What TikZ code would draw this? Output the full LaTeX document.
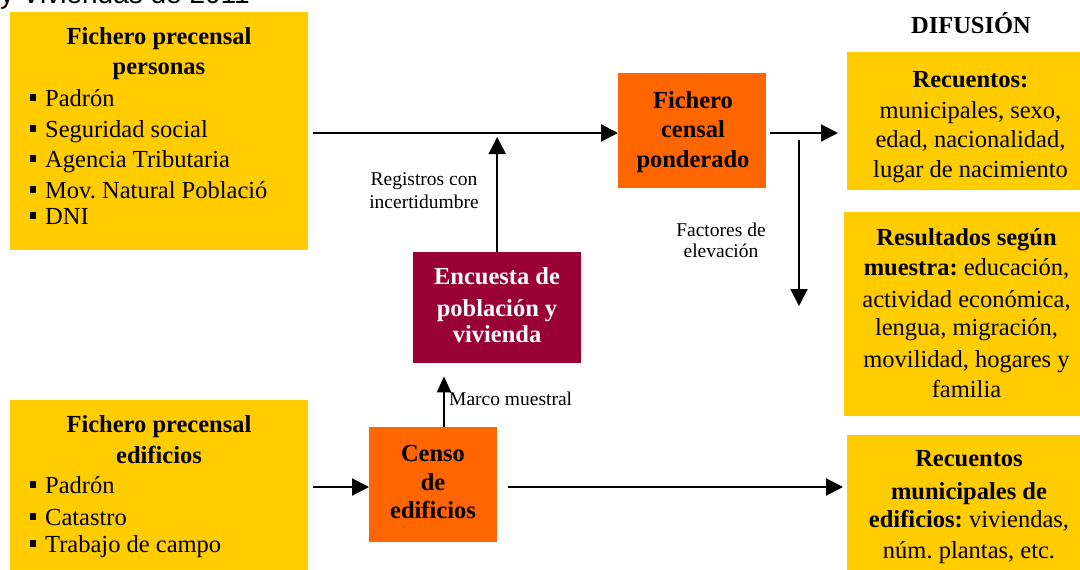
\documentclass[tikz,border=0pt]{standalone}
\usepackage{fontspec}
\setmainfont{Liberation Serif}
\newfontfamily\headsans{Liberation Sans}
\usetikzlibrary{arrows.meta}
\definecolor{ycol}{HTML}{FFCC00}
\definecolor{ocol}{HTML}{FF6600}
\definecolor{mcol}{HTML}{990033}
\newcommand\bodyfont{\fontsize{24.5}{30}\selectfont}
\newcommand\lblfont{\fontsize{19.5}{24}\selectfont}
\newcommand\bul{\raisebox{5.5pt}{\rule{6.5pt}{6.5pt}}\hspace{9pt}}
\frenchspacing
\begin{document}
\frenchspacing
\begin{tikzpicture}[x=1pt,y=-1pt,
  box/.style={draw=none, inner sep=0pt, anchor=north west},
  ln/.style={anchor=base, inner sep=0pt, font=\bodyfont},
  lnb/.style={anchor=base, inner sep=0pt, font=\bodyfont\bfseries},
  lnl/.style={anchor=base west, inner sep=0pt, font=\bodyfont},
  lbl/.style={anchor=base, inner sep=0pt, font=\lblfont},
  arr/.style={line width=2pt, -{Triangle[length=17pt,width=17pt]}},
  arrs/.style={line width=2pt, -{Triangle[length=16pt,width=14pt]}}]
\useasboundingbox (0,0) rectangle (1080,570);

% cut-off heading at top
\node[anchor=base west, inner sep=0pt, font=\headsans\fontsize{28}{30}\selectfont] (cut) at (0,4) {y Viviendas de 2011};

% boxes
\node[box, fill=ycol, minimum width=298pt, minimum height=238pt] (pp) at (10,12) {};
\node[box, fill=ycol, minimum width=298pt, minimum height=170pt] (pe) at (10,400) {};
\node[box, fill=ocol, minimum width=148pt, minimum height=115pt] (fc) at (618,73) {};
\node[box, fill=mcol, minimum width=168pt, minimum height=111pt] (enc) at (413,252) {};
\node[box, fill=ocol, minimum width=128pt, minimum height=115pt] (ce) at (369,427) {};
\node[box, fill=ycol, minimum width=233pt, minimum height=138pt] (rec) at (847,52) {};
\node[box, fill=ycol, minimum width=236pt, minimum height=204pt] (res) at (844,212) {};
\node[box, fill=ycol, minimum width=233pt, minimum height=135pt] (rme) at (847,435) {};

% Fichero precensal personas
\node[lnb] (pp1) at (159,45) {Fichero precensal};
\node[lnb] (pp2) at (159,74) {personas};
\node[lnl] (pp3) at (29.5,106) {\bul Padrón};
\node[lnl] (pp4) at (29.5,137) {\bul Seguridad social};
\node[lnl] (pp5) at (29.5,167) {\bul Agencia Tributaria};
\node[lnl] (pp6) at (29.5,198) {\bul Mov. Natural Població};
\node[lnl] (pp7) at (29.5,224) {\bul DNI};

% Fichero precensal edificios
\node[lnb] (pe1) at (159,432) {Fichero precensal};
\node[lnb] (pe2) at (159,463) {edificios};
\node[lnl] (pe3) at (29.5,493) {\bul Padrón};
\node[lnl] (pe4) at (29.5,525) {\bul Catastro};
\node[lnl] (pe5) at (29.5,552) {\bul Trabajo de campo};

% Fichero censal ponderado
\node[lnb] (fc1) at (693,108) {Fichero};
\node[lnb] (fc2) at (693,137) {censal};
\node[lnb] (fc3) at (693,167) {ponderado};

% Encuesta
\node[lnb, text=white] (en1) at (497,284) {Encuesta de};
\node[lnb, text=white] (en2) at (497,316) {población y};
\node[lnb, text=white] (en3) at (497,342) {vivienda};

% Censo de edificios
\node[lnb] (ce1) at (433,461) {Censo};
\node[lnb] (ce2) at (433,490) {de};
\node[lnb] (ce3) at (433,518) {edificios};

% DIFUSION
\node[lnb] (dif) at (971,33) {DIFUSIÓN};

% Recuentos
\node[lnb] (re1) at (970.5,87) {Recuentos:};
\node[ln] (re2) at (970.5,118) {municipales, sexo,};
\node[ln] (re3) at (970.5,147) {edad, nacionalidad,};
\node[ln] (re4) at (970.5,177) {lugar de nacimiento};

% Resultados
\node[lnb] (rs1) at (966.5,245) {Resultados según};
\node[ln] (rs2) at (966.5,275) {\textbf{muestra:} educación,};
\node[ln] (rs3) at (966.5,307) {actividad económica,};
\node[ln] (rs4) at (966.5,335) {lengua, migración,};
\node[ln] (rs5) at (966.5,367) {movilidad, hogares y};
\node[ln] (rs6) at (966.5,397) {familia};

% Recuentos municipales de edificios
\node[lnb] (rm1) at (969,466) {Recuentos};
\node[lnb] (rm2) at (969,499) {municipales de};
\node[ln] (rm3) at (969,527) {\textbf{edificios:} viviendas,};
\node[ln] (rm4) at (969,558) {núm. plantas, etc.};

% labels
\node[lbl] (lr1) at (424,185) {Registros con};
\node[lbl] (lr2) at (424,208) {incertidumbre};
\node[lbl] (lf1) at (721,236) {Factores de};
\node[lbl] (lf2) at (721,257) {elevación};
\node[lbl, anchor=base west] (lm) at (449,405) {Marco muestral};

% connectors
\coordinate (row1) at (0,133);
\coordinate (row2) at (0,487);
\coordinate (mx) at (444,0);
\coordinate (dtop) at (799,140);
\coordinate (dbot) at (799,306);
\draw[arr, shorten <=5pt] (pp.east |- row1) -- (fc.west |- row1);
\draw[arr, shorten <=4pt, shorten >=9pt] (fc.east |- row1) -- (rec.west |- row1);
\draw[arr, shorten >=4pt] (enc.north) -- (enc.north |- row1);
\draw[arr] (dtop) -- (dbot);
\draw[arr, shorten <=5pt] (pe.east |- row2) -- (ce.west |- row2);
\draw[arr, shorten <=11pt, shorten >=4pt] (ce.east |- row2) -- (rme.west |- row2);
\draw[arrs, shorten >=13pt] (mx |- ce.north) -- (mx |- enc.south);
\end{tikzpicture}
\end{document}
